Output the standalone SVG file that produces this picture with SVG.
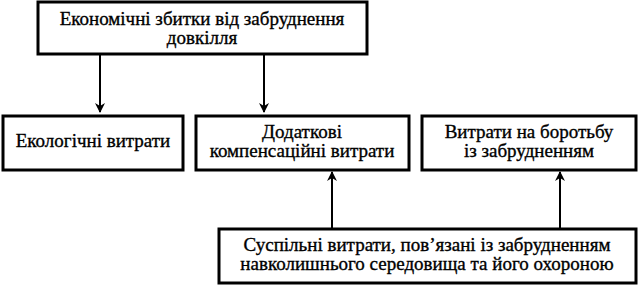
<svg xmlns="http://www.w3.org/2000/svg" width="639" height="285" viewBox="0 0 639 285">
<style>
.box{fill:#fff;stroke:#000;stroke-width:3}
.t{font-family:"Liberation Serif","Times New Roman",serif;font-size:19px;fill:#000;stroke:#000;stroke-width:0.35;text-anchor:middle}
.c{stroke:#000;stroke-width:2;fill:none}
</style>
<defs>
<marker id="ah" markerWidth="10" markerHeight="12" refX="9" refY="6" orient="auto" markerUnits="userSpaceOnUse">
<path d="M0,1 L10,6 L0,11 L3,6 Z" fill="#000"/>
</marker>
</defs>
<rect width="639" height="285" fill="#fff"/>
<g id="connectors">
<line class="c" x1="100" y1="55" x2="100" y2="112" marker-end="url(#ah)"/>
<line class="c" x1="264" y1="55" x2="264" y2="112" marker-end="url(#ah)"/>
<line class="c" x1="332" y1="229" x2="332" y2="172" marker-end="url(#ah)"/>
<line class="c" x1="560" y1="229" x2="560" y2="172" marker-end="url(#ah)"/>
</g>
<g id="n1">
<rect class="box" x="38" y="2" width="329" height="52"/>
<text class="t" x="202" y="25">Економічні збитки від забруднення</text>
<text class="t" x="202" y="44">довкілля</text>
</g>
<g id="n2">
<rect class="box" x="3" y="116" width="180" height="54"/>
<text class="t" x="93" y="147">Екологічні витрати</text>
</g>
<g id="n3">
<rect class="box" x="196" y="116" width="213" height="54"/>
<text class="t" x="302" y="138">Додаткові</text>
<text class="t" x="302" y="157">компенсаційні витрати</text>
</g>
<g id="n4">
<rect class="box" x="422" y="116" width="214" height="54"/>
<text class="t" x="529" y="138">Витрати на боротьбу</text>
<text class="t" x="529" y="157">із забрудненням</text>
</g>
<g id="n5">
<rect class="box" x="219" y="229" width="417" height="54"/>
<text class="t" x="427" y="251">Суспільні витрати, пов’язані із забрудненням</text>
<text class="t" x="427" y="270">навколишнього середовища та його охороною</text>
</g>
</svg>
